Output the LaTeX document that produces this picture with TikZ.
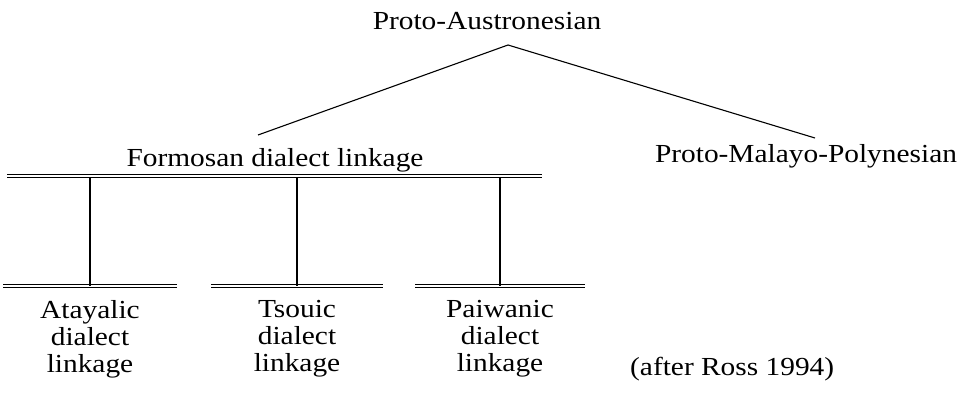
\documentclass[tikz,border=0pt]{standalone}
\usepackage{fontspec}
\setmainfont{Liberation Serif}[FakeStretch=1.13]
\usetikzlibrary{positioning,calc}

\begin{document}
\begin{tikzpicture}[x=1pt, y=1pt,
  lbl/.style={inner sep=0pt, anchor=base, font=\fontsize{26}{27}\selectfont},
  stack/.style={lbl, align=center, anchor=north},
  edge/.style={line width=1.1pt},
  bar/.style={double, line width=1pt, double distance=2.4pt}
]
\useasboundingbox (0,0) rectangle (961,396);

% --- top of the tree ---
\node[lbl] (pan) at (487,366) {Proto-Austronesian};
\coordinate (apex) at (508,351);

\node[lbl] (fdl) at (275,229) {Formosan dialect linkage};
\node[lbl] (pmp) at (806,233) {Proto-Malayo-Polynesian};
\coordinate (fdl-in) at (258,261);
\coordinate (pmp-in) at (815,258);

\draw[edge] (fdl-in) -- (apex) -- (pmp-in);

% --- the linkage bar and its three members ---
\coordinate (top-l) at (7,220);
\coordinate (top-r) at (542,220);
\draw[bar] (top-l) -- (top-r);

\foreach \n/\x/\w/\txt in {ata/90/87/Atayalic, tso/297/86/Tsouic, pai/500/85/Paiwanic}{
  \coordinate (\n-up) at (\x,218);
  \coordinate (\n-dn) at (\x,110);
  \draw[bar] ($(\n-dn)+(-\w,0)$) -- ($(\n-dn)+(\w,0)$);
  \draw[edge] (\n-up) -- (\n-dn);
  \node[stack] (\n) at (\x,96) {\txt\\dialect\\linkage};
}

\node[lbl, anchor=base west] (src) at (630,20) {(after Ross 1994)};

\end{tikzpicture}
\end{document}
